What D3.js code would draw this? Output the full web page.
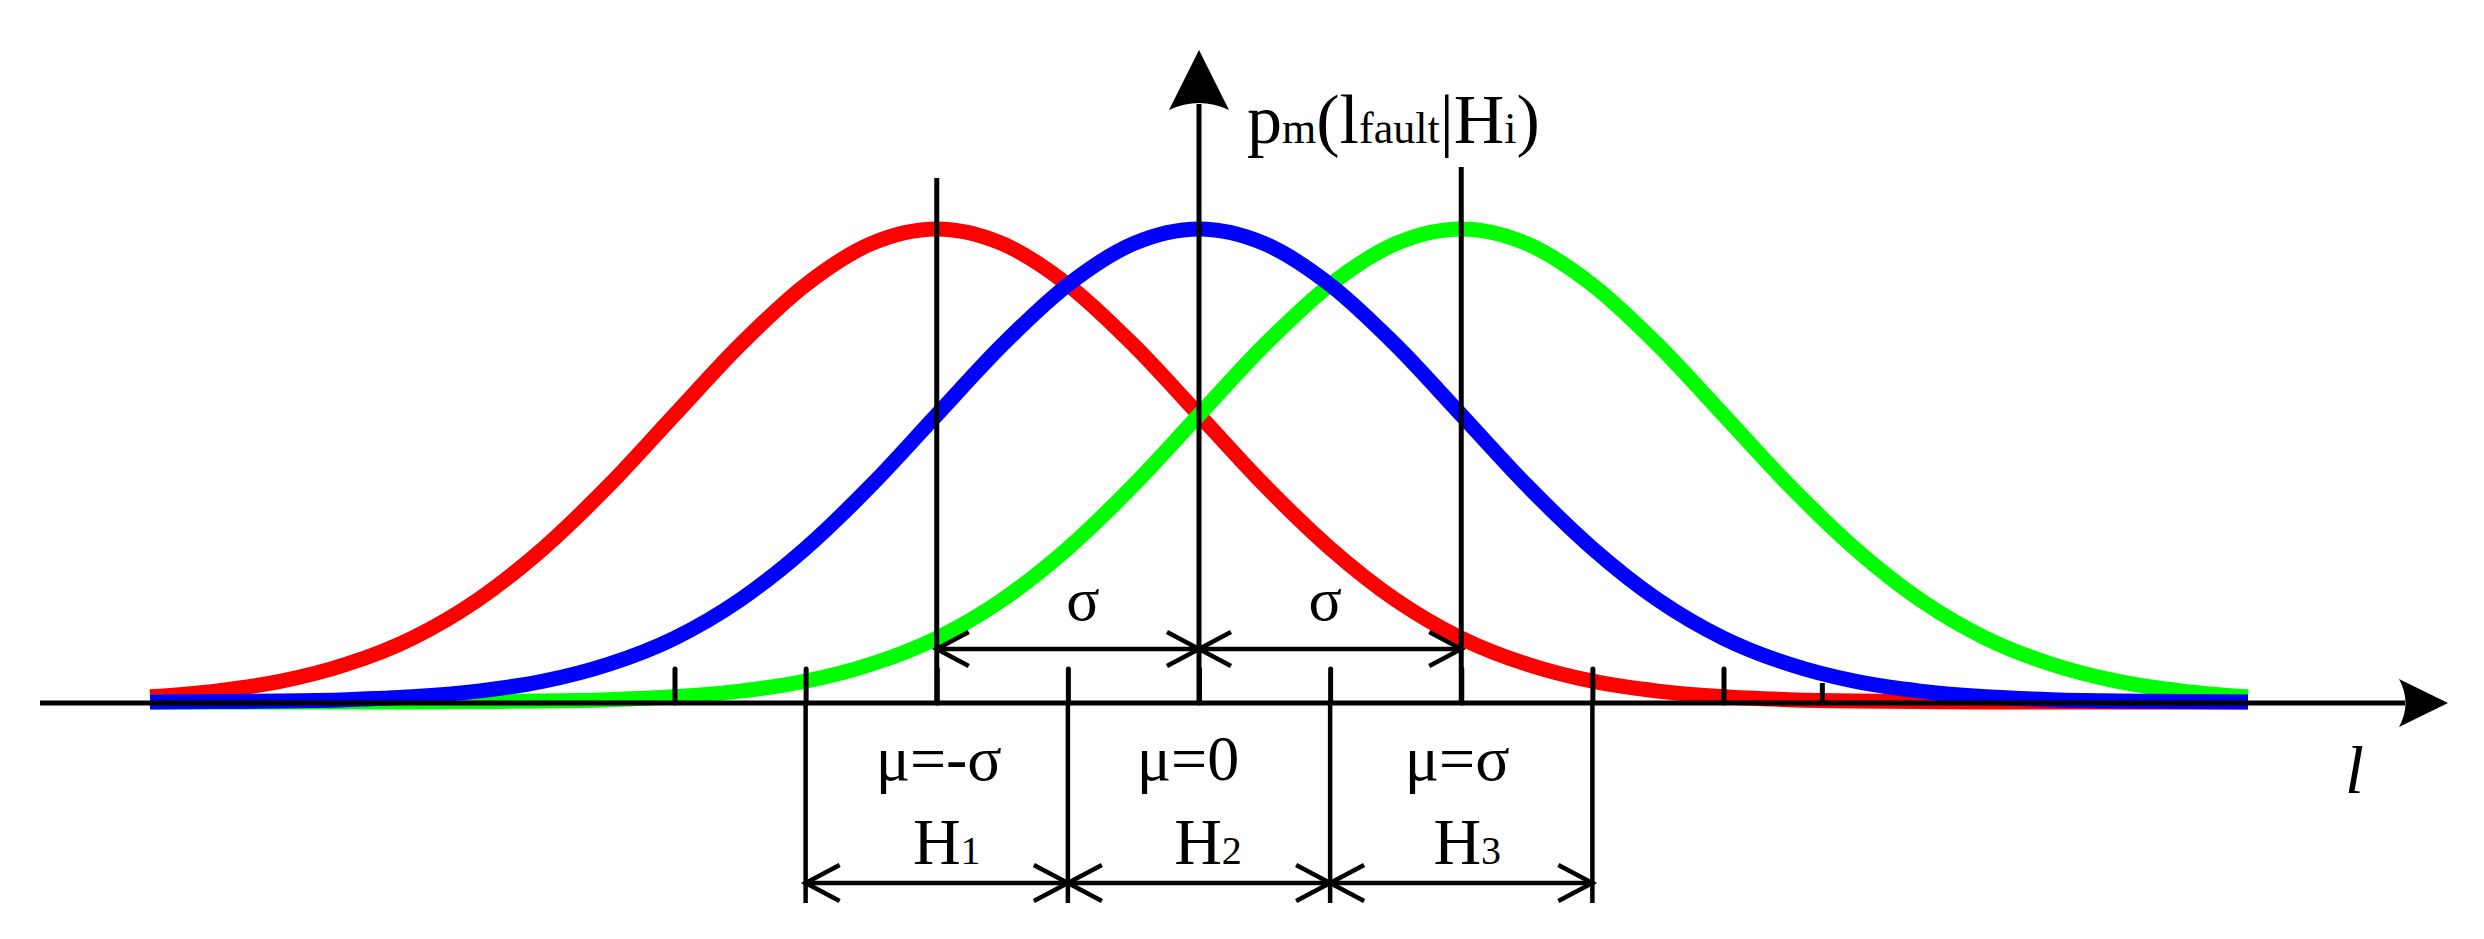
<!DOCTYPE html>
<html>
<head>
<meta charset="utf-8">
<script src="https://cdn.jsdelivr.net/npm/d3@7"></script>
<style>
html,body{margin:0;padding:0;background:#fff;}
svg{display:block;}
text{font-family:"Liberation Serif","DejaVu Serif",serif;fill:#000;}
</style>
</head>
<body>
<svg id="chart" width="2484" height="939"></svg>
<script>
// ---- data (x in units of sigma, y relative to peak density) ----
const xs = [-4,-3.75,-3.5,-3.25,-3,-2.75,-2.5,-2.25,-2,-1.75,-1.5,-1.25,-1,-0.75,-0.5,-0.25,0,
            0.25,0.5,0.75,1,1.25,1.5,1.75,2,2.25,2.5,2.75,3,3.25,3.5,3.75,4];
const redValues = [0.011,0.023,0.044,0.080,0.135,0.216,0.325,0.458,0.607,0.755,0.882,0.969,1.000,
                   0.969,0.882,0.755,0.607,0.458,0.325,0.216,0.135,0.080,0.044,0.023,0.011,0.005,
                   0.002,0.001,0.000,0.000,0.000,0.000,0.000];
const blueValues = [0.000,0.001,0.002,0.005,0.011,0.023,0.044,0.080,0.135,0.216,0.325,0.458,0.607,
                    0.755,0.882,0.969,1.000,0.969,0.882,0.755,0.607,0.458,0.325,0.216,0.135,0.080,
                    0.044,0.023,0.011,0.005,0.002,0.001,0.000];
const greenValues = [0.000,0.000,0.000,0.000,0.000,0.001,0.002,0.005,0.011,0.023,0.044,0.080,0.135,
                     0.216,0.325,0.458,0.607,0.755,0.882,0.969,1.000,0.969,0.882,0.755,0.607,0.458,
                     0.325,0.216,0.135,0.080,0.044,0.023,0.011];
const meanValues = [-1, 0, 1];
const tickValues = [-2,-1.5,-1,-0.5,0,0.5,1,1.5,2];
const shortTickValues = [2.375];
const boundaryValues = [-1.5,-0.5,0.5,1.5];
const muLabels = ["μ=-σ","μ=0","μ=σ"];
const hypothesisSubs = ["1","2","3"];
const sigmaLabels = ["σ","σ"];

// ---- layout ----
const svg = d3.select("#chart");
const x = d3.scaleLinear().domain([-4,4]).range([150,2248]);
const y = d3.scaleLinear().domain([0,1]).range([702,229]);
const AXIS_Y = 703;

const series = [
  {name:"red", color:"#ff0000", values:redValues},
  {name:"green", color:"#00ff00", values:greenValues},
  {name:"blue", color:"#0000ff", values:blueValues}
];
const line = d3.line().x(d=>x(d[0])).y(d=>y(d[1])).curve(d3.curveMonotoneX);

svg.append("g").selectAll("path").data(series).join("path")
  .attr("d", s => line(xs.map((v,i)=>[v, s.values[i]])))
  .attr("fill","none").attr("stroke", s=>s.color)
  .attr("stroke-width",15).attr("stroke-linecap","butt").attr("stroke-linejoin","round");

// x axis line + arrow
svg.append("line").attr("x1",40).attr("x2",2405).attr("y1",AXIS_Y).attr("y2",AXIS_Y)
  .attr("stroke","#000").attr("stroke-width",5);
svg.append("path").attr("d","M2448,703 L2399,679 Q2412,703 2399,727 Z").attr("fill","#000");

// y axis line + arrow
svg.append("line").attr("x1",x(0)).attr("x2",x(0)).attr("y1",AXIS_Y).attr("y2",104)
  .attr("stroke","#000").attr("stroke-width",5);
svg.append("path").attr("d",`M${x(0)},50 L${x(0)+30},110 Q${x(0)},96 ${x(0)-30},110 Z`).attr("fill","#000");

// ticks
const tickAxis = d3.axisBottom(x).tickValues(tickValues).tickSize(-34).tickFormat("");
const gT = svg.append("g").attr("transform",`translate(0,${AXIS_Y})`).call(tickAxis);
gT.select(".domain").remove();
gT.selectAll("line").attr("stroke","#000").attr("stroke-width",5).attr("stroke-linecap","round");
const shortAxis = d3.axisBottom(x).tickValues(shortTickValues).tickSize(-20).tickFormat("");
const gS = svg.append("g").attr("transform",`translate(0,${AXIS_Y})`).call(shortAxis);
gS.select(".domain").remove();
gS.selectAll("line").attr("stroke","#000").attr("stroke-width",5);

// mean marker lines
const meanTops = {"-1":178, "1":167};
svg.append("g").selectAll("line").data(meanValues.filter(m=>m!==0)).join("line")
  .attr("x1",d=>x(d)).attr("x2",d=>x(d)).attr("y1",d=>meanTops[d]).attr("y2",AXIS_Y)
  .attr("stroke","#000").attr("stroke-width",5);

// open arrow barbs
function barbs(g, px, py, dir, len, half){
  g.append("path").attr("d",`M${px-dir*len},${py-half} L${px},${py} L${px-dir*len},${py+half}`)
    .attr("fill","none").attr("stroke","#000").attr("stroke-width",4.5);
}

// sigma dimension
const SIG_Y = 649;
const gSig = svg.append("g");
gSig.append("line").attr("x1",x(-1)).attr("x2",x(1)).attr("y1",SIG_Y).attr("y2",SIG_Y)
  .attr("stroke","#000").attr("stroke-width",4.5);
[[-1,0],[0,1]].forEach(([a,b])=>{
  barbs(gSig, x(a), SIG_Y, -1, 32, 17);
  barbs(gSig, x(b), SIG_Y, 1, 32, 17);
});
const sigDx = [15,-5];
gSig.selectAll("text").data(sigmaLabels).join("text")
  .attr("x",(d,i)=>x(i===0?-0.5:0.5)+sigDx[i]).attr("y",620)
  .attr("text-anchor","middle").attr("font-size",62).text(d=>d);

// hypothesis dimension
const DIM_Y = 883;
const gH = svg.append("g");
gH.selectAll("line.ext").data(boundaryValues).join("line").attr("class","ext")
  .attr("x1",d=>x(d)).attr("x2",d=>x(d)).attr("y1",AXIS_Y).attr("y2",903)
  .attr("stroke","#000").attr("stroke-width",4.5);
gH.append("line").attr("x1",x(-1.5)).attr("x2",x(1.5)).attr("y1",DIM_Y).attr("y2",DIM_Y)
  .attr("stroke","#000").attr("stroke-width",4.5);
for(let i=0;i<boundaryValues.length-1;i++){
  barbs(gH, x(boundaryValues[i]), DIM_Y, -1, 34, 18);
  barbs(gH, x(boundaryValues[i+1]), DIM_Y, 1, 34, 18);
}
const muDx = [2,-11,-4];
gH.selectAll("text.mu").data(muLabels).join("text").attr("class","mu")
  .attr("x",(d,i)=>x(meanValues[i])+muDx[i]).attr("y",780)
  .attr("text-anchor","middle").attr("font-size",64).text(d=>d);
const hDx = [10,9,6];
const hT = gH.selectAll("text.h").data(hypothesisSubs).join("text").attr("class","h")
  .attr("x",(d,i)=>x(meanValues[i])+hDx[i]).attr("y",864).attr("text-anchor","middle");
hT.append("tspan").attr("font-size",66).text("H");
hT.append("tspan").attr("font-size",40).text(d=>d);

// y label
const yl = svg.append("text").attr("x",1247).attr("y",143);
[["p",70],["m",44],["(",70],["l",70],["fault",44],["|",70],["H",70],["i",44],[")",70]]
  .forEach(([t,s])=>yl.append("tspan").attr("font-size",s).text(t));

// x label
svg.append("text").attr("x",2345).attr("y",793).attr("font-size",68)
  .attr("font-style","italic").text("l");
</script>
</body>
</html>
